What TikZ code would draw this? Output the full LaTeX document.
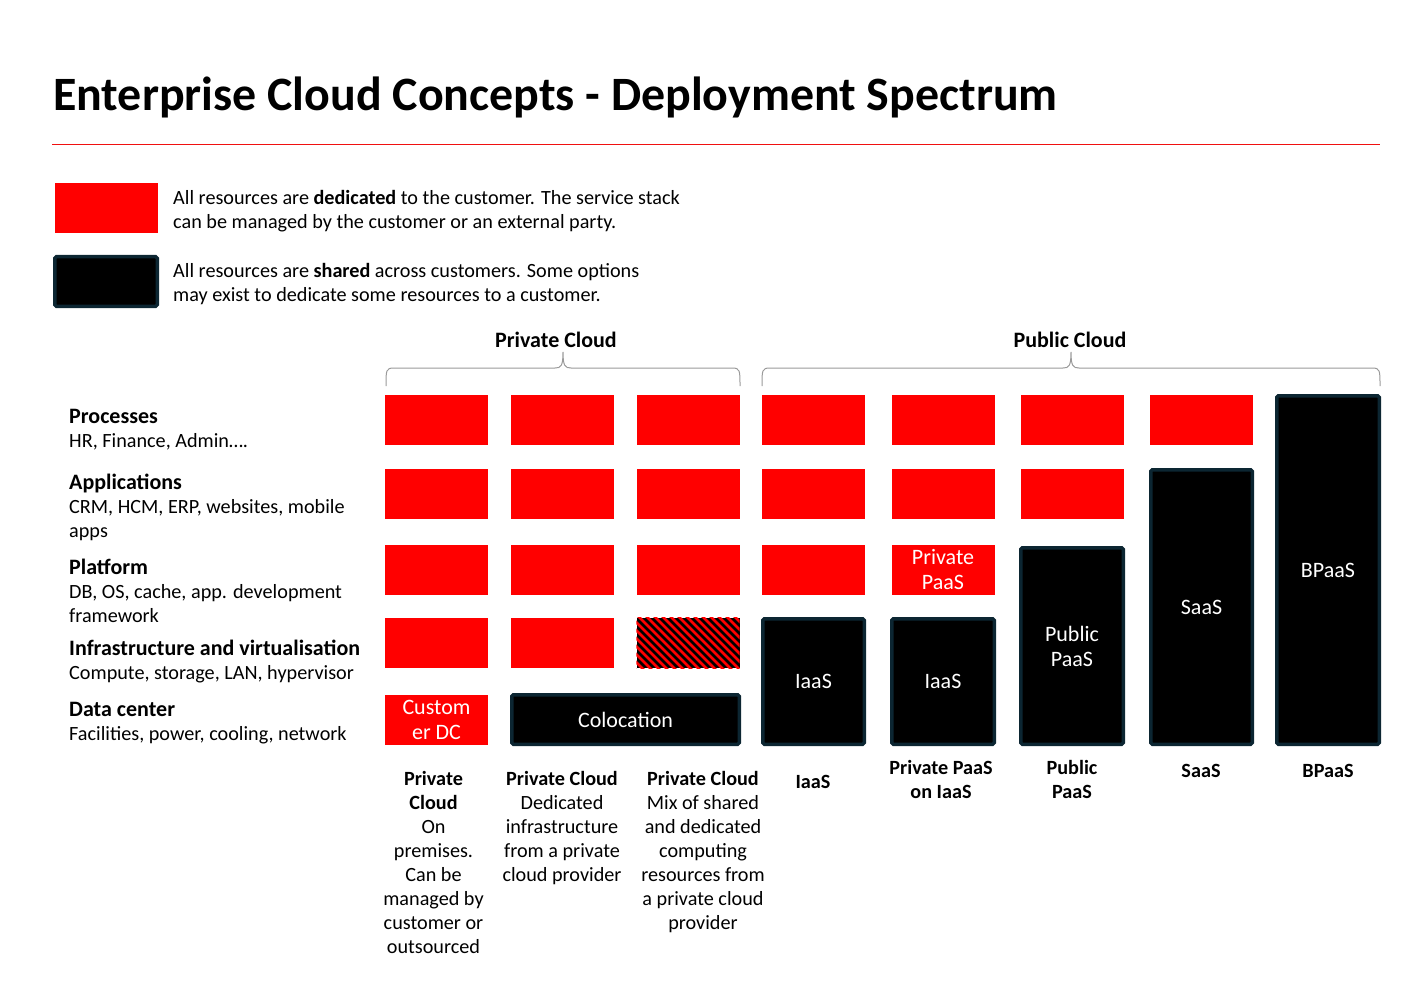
\documentclass[tikz,border=0pt]{standalone}
\usepackage{fontspec}
\setmainfont{Carlito}
\usepackage{tikz}
\usetikzlibrary{positioning}
\definecolor{dedicated}{HTML}{FF0000}
\definecolor{sharededge}{HTML}{0C2632}
\definecolor{rulered}{HTML}{F01010}
\definecolor{bracegray}{HTML}{9A9A9A}
\newcommand{\rowhead}[1]{{\fontsize{22}{24}\selectfont\bfseries #1}}

\begin{document}
\begin{tikzpicture}[x=1pt, y=-1pt, font=\fontsize{20.2}{24}\selectfont,
  cell/.style={fill=dedicated, minimum width=103, minimum height=50, inner sep=0, text=white, align=center, font=\fontsize{22}{25}\selectfont},
  shared/.style={fill=black, draw=sharededge, line width=3.5, rounded corners=1.5, inner sep=0, text=white, align=center, font=\fontsize{22}{25}\selectfont},
  lbl/.style={anchor=north west, inner sep=0, align=left, execute at begin node={\strut}},
  capt/.style={anchor=north, inner sep=0, align=center, execute at begin node={\strut}},
  brace/.style={draw=bracegray, line width=1}]
  \useasboundingbox (0,0) rectangle (1425,995);

  \node[anchor=base west, inner sep=0, font=\fontsize{47.9}{52}\selectfont\bfseries] (title) at (53,111) {Enterprise Cloud Concepts - Deployment Spectrum};
  \coordinate (ruleL) at (52,145);
  \coordinate (ruleR) at (1380,145);
  \draw[rulered, line width=1] (ruleL) -- (ruleR);

  \node[cell] (legded) at (106.5,208) {};
  \node[shared, minimum width=102.5, minimum height=49.5] (legsh) at (106,281.5) {};
  \node[lbl] (legdedtxt) at (173,190) {All resources are \textbf{dedicated} to the customer. The service stack\\can be managed by the customer or an external party.};
  \node[lbl] (legshtxt) at (173,263) {All resources are \textbf{shared} across customers. Some options\\may exist to dedicate some resources to a customer.};

  \node[capt, font=\fontsize{22}{24}\selectfont\bfseries] (privhd) at (556,330) {Private Cloud};
  \node[capt, font=\fontsize{22}{24}\selectfont\bfseries] (pubhd) at (1070,330) {Public Cloud};
  \draw[brace] (386,386) .. controls (386,370) and (386,368) .. (394,368) -- (555,368)
    .. controls (561,368) and (563,366) .. (563,352) .. controls (563,366) and (565,368) .. (571,368)
    -- (732,368) .. controls (740,368) and (740,370) .. (740,386);
  \draw[brace] (762,386) .. controls (762,370) and (762,368) .. (770,368) -- (1063,368)
    .. controls (1069,368) and (1071,366) .. (1071,352) .. controls (1071,366) and (1073,368) .. (1079,368)
    -- (1372,368) .. controls (1380,368) and (1380,370) .. (1380,386);

  \node[lbl] (processes) at (69,409) {\rowhead{Processes}\\HR, Finance, Admin….};
  \node[lbl] (applications) at (69,474) {\rowhead{Applications}\\CRM, HCM, ERP, websites, mobile\\apps};
  \node[lbl] (platform) at (69,559) {\rowhead{Platform}\\DB, OS, cache, app. development\\framework};
  \node[lbl] (infra) at (69,640) {\rowhead{Infrastructure and virtualisation}\\Compute, storage, LAN, hypervisor};
  \node[lbl] (datacenter) at (69,702) {\rowhead{Data center}\\Facilities, power, cooling, network};

  \foreach \cx/\cy [count=\k] in {436.5/420, 562.5/420, 688/420, 813.5/420, 943/420, 1072.5/420, 1201.5/420,
      436.5/494, 562.5/494, 688/494, 813.5/494, 943/494, 1072.5/494,
      436.5/570, 562.5/570, 688/570, 813.5/570,
      436.5/643, 562.5/643}
    \node[cell] (red\k) at (\cx,\cy) {};
  \node[cell] (custdc) at (436.5,719.5) {Custom\\er DC};
  \node[cell] (privpaas) at (943,570) {Private\\PaaS};
  \node[cell, fill=black] (mixinfra) at (688,643) {};
  \begin{scope}
    \clip (mixinfra.north west) rectangle (mixinfra.south east);
    \foreach \i in {560,568,...,744}
      \draw[dedicated, line width=2.8] (\i,610) -- ++(70,70);
  \end{scope}

  \node[shared, minimum width=227.5, minimum height=49.5] (coloc) at (625.5,719.5) {Colocation};
  \node[shared, minimum width=101.5, minimum height=125.5] (iaas) at (813.5,681.5) {IaaS};
  \node[shared, minimum width=102.5, minimum height=125.5] (paasiaas) at (943,681.5) {IaaS};
  \node[shared, minimum width=102.5, minimum height=196.5] (pubpaas) at (1072,646) {Public\\PaaS};
  \node[shared, minimum width=101.5, minimum height=274.5] (saas) at (1201.5,607) {SaaS};
  \node[shared, minimum width=102.5, minimum height=348.5] (bpaas) at (1328,570) {BPaaS};

  \node[capt] (onprem) at (433.5,771) {\textbf{Private}\\\textbf{Cloud}\\On\\premises.\\Can be\\managed by\\customer or\\outsourced};
  \node[capt] (dedinfra) at (562,771) {\textbf{Private Cloud}\\Dedicated\\infrastructure\\from a private\\cloud provider};
  \node[capt] (mixed) at (703,771) {\textbf{Private Cloud}\\Mix of shared\\and dedicated\\computing\\resources from\\a private cloud\\provider};
  \node[capt] (iaascap) at (813,771) {\textbf{IaaS}};
  \node[capt] (paasiaascap) at (941,760) {\textbf{Private PaaS}\\\textbf{on IaaS}};
  \node[capt] (pubpaascap) at (1072,760) {\textbf{Public}\\\textbf{PaaS}};
  \node[capt] (saascap) at (1201,760) {\textbf{SaaS}};
  \node[capt] (bpaascap) at (1328,760) {\textbf{BPaaS}};
\end{tikzpicture}
\end{document}
